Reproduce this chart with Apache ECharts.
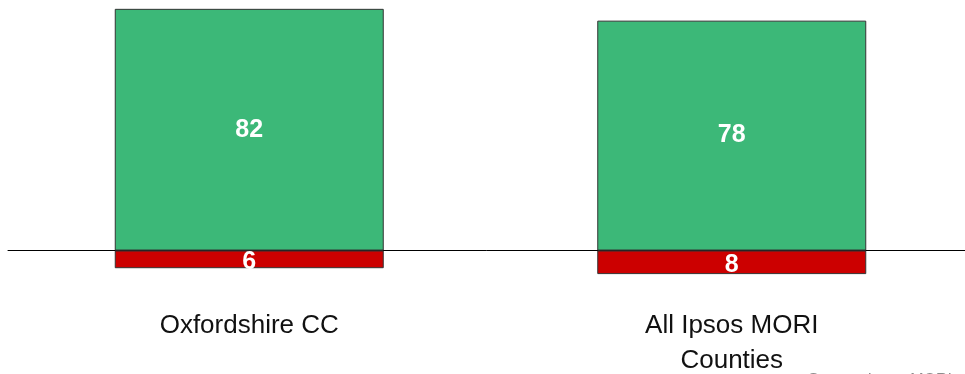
<!DOCTYPE html>
<html>
<head>
<meta charset="utf-8">
<style>
  html, body { margin: 0; padding: 0; background: #ffffff; }
  #chart { width: 965px; height: 374px; }
</style>
<script src="https://cdn.jsdelivr.net/npm/echarts@6/dist/echarts.min.js"></script>
</head>
<body>
<div id="chart"></div>
<script>
// Categories and results (positive share above the line, negative share below)
const categories = ['Oxfordshire CC', 'All Ipsos MORI\nCounties'];
const positiveValues = [82, 78];
const negativeValues = [6, 8];

const chart = echarts.init(document.getElementById('chart'), null, { renderer: 'canvas' });

const fontFamily = "'Liberation Sans', Arial, Helvetica, sans-serif";

chart.setOption({
  animation: false,
  backgroundColor: '#ffffff',
  grid: {
    left: 8, right: -8, top: 0, height: 280,
    containLabel: false,
    outerBoundsMode: 'none'
  },
  xAxis: {
    type: 'category',
    data: categories,
    axisLine: { show: true, onZero: true, lineStyle: { color: '#000000', width: 1 } },
    axisTick: { show: false },
    axisLabel: {
      show: true,
      interval: 0,
      margin: 28,
      fontSize: 26,
      lineHeight: 35,
      color: '#111111',
      fontFamily: fontFamily
    },
    splitLine: { show: false }
  },
  yAxis: {
    type: 'value',
    min: -10,
    max: 85,
    show: false,
    splitLine: { show: false }
  },
  series: [
    {
      name: 'Positive',
      type: 'bar',
      stack: 'total',
      barWidth: 269,
      data: positiveValues,
      itemStyle: { color: '#3cb878', borderColor: '#333333', borderWidth: 1 },
      label: {
        show: true,
        position: 'inside',
        color: '#ffffff',
        fontSize: 25,
        fontWeight: 'bold',
        fontFamily: fontFamily
      }
    },
    {
      name: 'Negative',
      type: 'bar',
      stack: 'total',
      barWidth: 269,
      data: negativeValues.map(v => -v),
      itemStyle: { color: '#cc0000', borderColor: '#333333', borderWidth: 1 },
      label: {
        show: true,
        position: 'inside',
        offset: [0, 3],
        color: '#ffffff',
        fontSize: 25,
        fontWeight: 'bold',
        fontFamily: fontFamily,
        formatter: p => Math.abs(p.value)
      }
    }
  ],
  graphic: [
    {
      type: 'text',
      left: 808,
      top: 373,
      style: {
        text: 'Source: Ipsos MORI',
        fontSize: 16,
        fill: '#8c8c8c',
        fontFamily: fontFamily
      }
    }
  ]
});
</script>
</body>
</html>
